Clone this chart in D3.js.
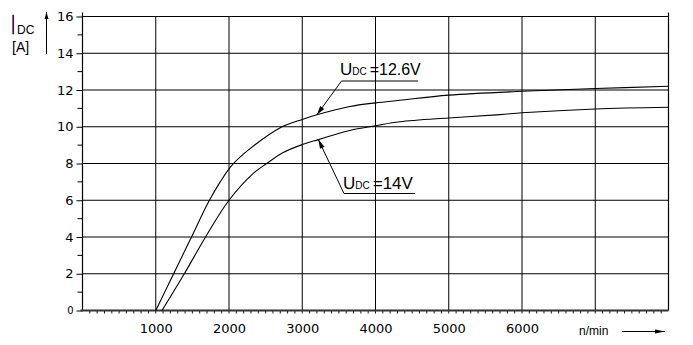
<!DOCTYPE html>
<html>
<head>
<meta charset="utf-8">
<script src="https://cdn.jsdelivr.net/npm/d3@7"></script>
<style>
  html, body { margin: 0; padding: 0; background: #fff; }
  svg { display: block; }
  text { font-family: "DejaVu Sans", sans-serif; fill: #000; }
  .lab { font-family: "Liberation Sans", Arial, sans-serif; }
  .thin { font-family: Inter, Lato, "Liberation Sans", sans-serif; font-weight: 100; }
</style>
</head>
<body>
<svg id="chart" width="693" height="345"></svg>
<script>
// Generator output current vs. speed for two DC voltages
const speedTicks = [1000, 2000, 3000, 4000, 5000, 6000];
const currentTicks = [0, 2, 4, 6, 8, 10, 12, 14, 16];

const rpm126 = [1000, 1244, 1488, 1720, 1880, 2050, 2300, 2700, 3000, 3200, 3650, 4000, 4330, 5000, 6000, 7000, 8000];
const amp126 = [0, 2, 4, 5.9, 7.0, 7.95, 8.85, 9.95, 10.4, 10.65, 11.1, 11.3, 11.44, 11.72, 11.93, 12.08, 12.2];

const rpm14 = [1085, 1390, 1680, 2000, 2332, 2515, 2740, 3000, 3220, 3650, 4000, 4330, 5000, 5700, 6000, 7000, 8000];
const amp14 = [0, 2, 4, 6, 7.46, 8.0, 8.6, 9.03, 9.3, 9.8, 10.05, 10.27, 10.48, 10.66, 10.76, 10.97, 11.06];

const svg = d3.select("#chart");

const x = d3.scaleLinear().domain([0, 8000]).range([82.5, 668.5]);
const y = d3.scaleLinear().domain([0, 16]).range([310.5, 16.5]);

const g = svg.append("g");

// horizontal grid
g.append("g").selectAll("line")
  .data(currentTicks.filter(v => v > 0))
  .join("line")
  .attr("x1", x(0)).attr("x2", x(8000))
  .attr("y1", d => y(d)).attr("y2", d => y(d))
  .attr("stroke", "#000").attr("stroke-width", 1);

// vertical grid
g.append("g").selectAll("line")
  .data(d3.range(1000, 8000, 1000))
  .join("line")
  .attr("x1", d => x(d)).attr("x2", d => x(d))
  .attr("y1", y(0)).attr("y2", y(16))
  .attr("stroke", "#000").attr("stroke-width", 1);

// right border
g.append("line")
  .attr("x1", x(8000)).attr("x2", x(8000))
  .attr("y1", y(0)).attr("y2", y(16) - 4)
  .attr("stroke", "#000").attr("stroke-width", 1.2);

// y axis with labels
const yAxis = d3.axisLeft(y).tickValues(currentTicks).tickSize(6).tickPadding(3)
  .tickFormat(d3.format("d"));
const ya = g.append("g").attr("transform", `translate(${x(0)},0)`).call(yAxis);
ya.select(".domain").remove();
ya.selectAll(".tick line").attr("stroke", "#000");
ya.selectAll(".tick text")
  .style("font-family", "DejaVu Sans, sans-serif")
  .style("font-size", d => d === 0 ? "10px" : "13px")
  .attr("fill", "#000");
// minor y ticks
g.append("g").selectAll("line")
  .data(d3.range(1, 16, 2))
  .join("line")
  .attr("x1", x(0) - 5).attr("x2", x(0))
  .attr("y1", d => y(d)).attr("y2", d => y(d))
  .attr("stroke", "#000");
g.append("line")
  .attr("x1", x(0)).attr("x2", x(0))
  .attr("y1", y(0)).attr("y2", y(16) - 4)
  .attr("stroke", "#000").attr("stroke-width", 1.2);

// x axis with labels
const xAxis = d3.axisBottom(x).tickValues(speedTicks).tickSize(0).tickPadding(13)
  .tickFormat(d3.format("d"));
const xa = g.append("g").attr("transform", `translate(0,${y(0)})`).call(xAxis);
xa.select(".domain").remove();
xa.selectAll(".tick text")
  .style("font-family", "DejaVu Sans, sans-serif")
  .style("font-size", "13px")
  .attr("fill", "#000");
// minor x ticks every 100 rpm
g.append("g").selectAll("line")
  .data(d3.range(100, 8000, 100))
  .join("line")
  .attr("x1", d => x(d)).attr("x2", d => x(d))
  .attr("y1", y(0)).attr("y2", y(0) + 3)
  .attr("stroke", "#000").attr("stroke-width", 0.9);
g.append("line")
  .attr("x1", x(0) - 2).attr("x2", x(8000))
  .attr("y1", y(0)).attr("y2", y(0))
  .attr("stroke", "#333").attr("stroke-width", 2);

// curves
const line = d3.line().x(d => x(d[0])).y(d => y(d[1])).curve(d3.curveCatmullRom.alpha(0.5));
g.append("path").datum(d3.zip(rpm126, amp126))
  .attr("d", line).attr("fill", "none").attr("stroke", "#000").attr("stroke-width", 1.1);
g.append("path").datum(d3.zip(rpm14, amp14))
  .attr("d", line).attr("fill", "none").attr("stroke", "#000").attr("stroke-width", 1.1);

// arrowhead helper: filled triangle pointing from (x0,y0) toward (x1,y1)
function arrow(x0, y0, x1, y1, len, half) {
  const a = Math.atan2(y1 - y0, x1 - x0);
  const bx = x1 - len * Math.cos(a), by = y1 - len * Math.sin(a);
  const px = -Math.sin(a) * half, py = Math.cos(a) * half;
  g.append("line").attr("x1", x0).attr("y1", y0).attr("x2", x1).attr("y2", y1)
    .attr("stroke", "#000").attr("stroke-width", 1);
  g.append("path")
    .attr("d", `M${x1},${y1}L${bx + px},${by + py}L${bx - px},${by - py}Z`)
    .attr("fill", "#000");
}

// annotation: U_DC = 12.6 V
const t1 = g.append("text").attr("class", "lab").attr("x", 340).attr("y", 75).style("font-size", "17px");
t1.append("tspan").text("U");
t1.append("tspan").style("font-size", "10px").text("DC");
t1.append("tspan").attr("dx", 3).attr("textLength", 51).attr("lengthAdjust", "spacingAndGlyphs").text("=12.6V");
g.append("line").attr("x1", 341.5).attr("x2", 418).attr("y1", 81).attr("y2", 81).attr("stroke", "#000");
arrow(341.5, 81, x(3200), y(10.65), 9, 2.5);

// annotation: U_DC = 14 V
const t2 = g.append("text").attr("class", "lab").attr("x", 343).attr("y", 188.5).style("font-size", "17px");
t2.append("tspan").text("U");
t2.append("tspan").style("font-size", "10px").text("DC");
t2.append("tspan").attr("dx", 3).text("=14V");
g.append("line").attr("x1", 344).attr("x2", 415).attr("y1", 193.5).attr("y2", 193.5).attr("stroke", "#000");
arrow(344, 193.5, x(3220), y(9.3), 9, 2.5);

// y axis title: thin tall "I" with "DC" index
g.append("text").attr("class", "thin").attr("x", 10).attr("y", 34)
  .attr("stroke", "#000").attr("stroke-width", 0.7)
  .style("font-size", "25px").text("I");
g.append("text").attr("class", "lab").attr("x", 17).attr("y", 34).style("font-size", "12px").text("DC");
g.append("text").attr("class", "lab").attr("x", 12).attr("y", 52).style("font-size", "14px").text("[A]");
arrow(46.5, 54, 46.5, 12, 7, 2);

// x axis title
g.append("text").attr("class", "lab").attr("x", 579).attr("y", 335).style("font-size", "12px").text("n/min");
arrow(622, 331.5, 665, 331.5, 10, 2);
</script>
</body>
</html>
